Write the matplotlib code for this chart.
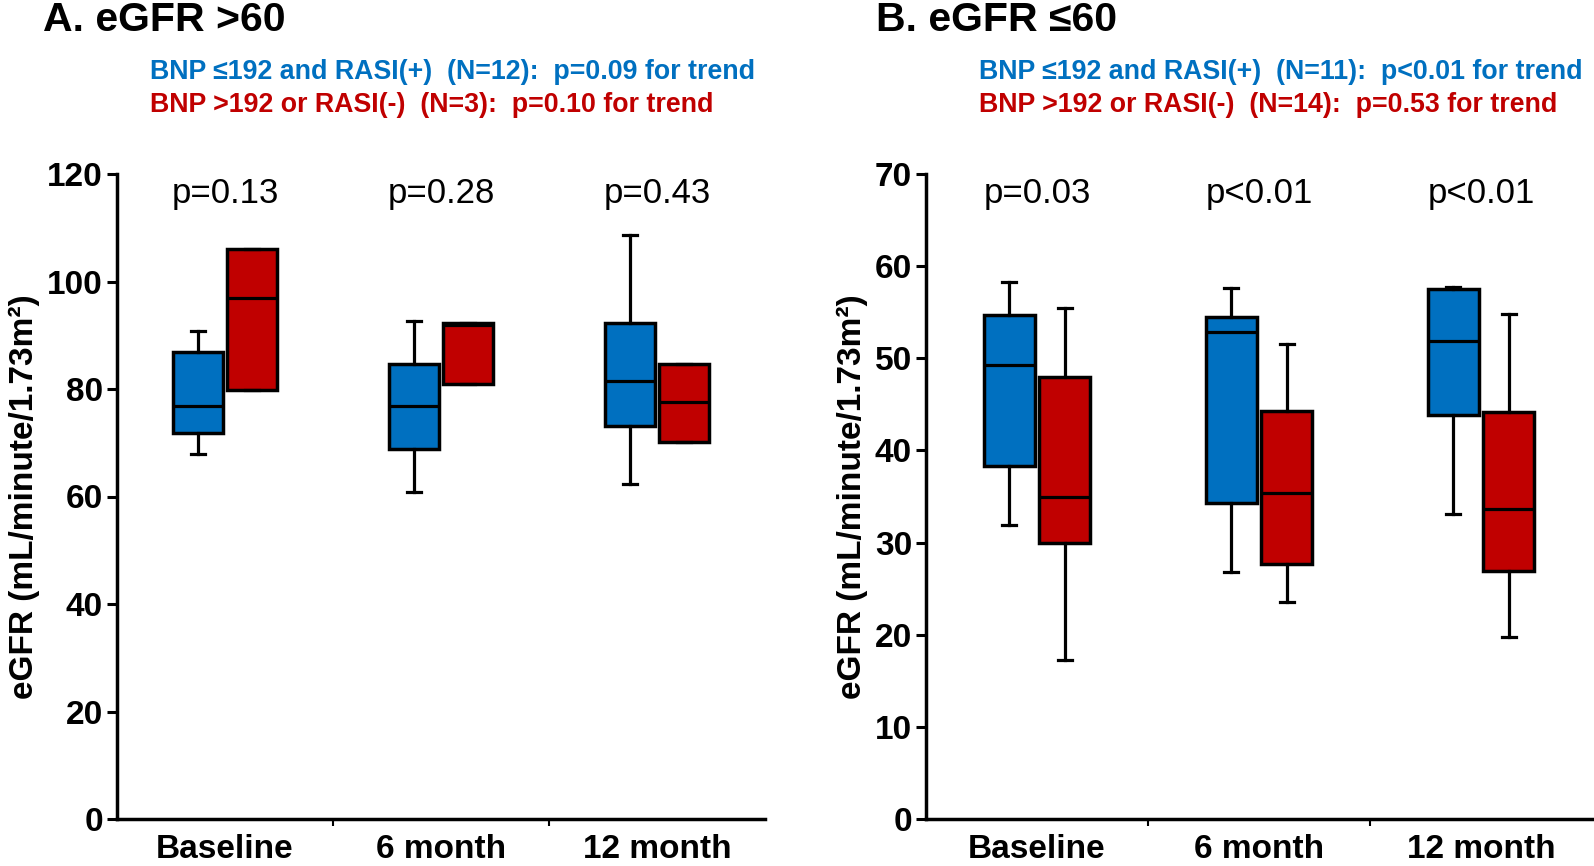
import matplotlib
matplotlib.use("Agg")
import matplotlib.pyplot as plt

plt.rcParams["font.family"] = ["Liberation Sans", "DejaVu Sans"]

BLUE = "#0070C0"
RED = "#C00000"

categories = ["Baseline", "6 month", "12 month"]

# panel A: eGFR >60
a_blue_whislo = [67.9, 60.9, 62.3]
a_blue_q1 = [71.9, 68.8, 73.2]
a_blue_med = [76.9, 76.9, 81.4]
a_blue_q3 = [86.8, 84.7, 92.3]
a_blue_whishi = [90.8, 92.6, 108.6]

a_red_whislo = [79.8, 80.9, 70.1]
a_red_q1 = [79.8, 80.9, 70.1]
a_red_med = [97.0, 92.0, 77.5]
a_red_q3 = [106.0, 92.3, 84.7]
a_red_whishi = [106.0, 92.3, 84.7]

a_pvalues = ["p=0.13", "p=0.28", "p=0.43"]

# panel B: eGFR <=60
b_blue_whislo = [31.9, 26.8, 33.1]
b_blue_q1 = [38.3, 34.3, 43.8]
b_blue_med = [49.3, 52.8, 51.9]
b_blue_q3 = [54.7, 54.5, 57.5]
b_blue_whishi = [58.3, 57.6, 57.7]

b_red_whislo = [17.3, 23.6, 19.7]
b_red_q1 = [30.0, 27.7, 26.9]
b_red_med = [34.9, 35.4, 33.6]
b_red_q3 = [48.0, 44.3, 44.2]
b_red_whishi = [55.5, 51.6, 54.8]

b_pvalues = ["p=0.03", "p<0.01", "p<0.01"]

W, H = 1594, 866


def _stats(lo, q1, med, q3, hi):
    return [dict(whislo=a, q1=b, med=c, q3=d, whishi=e, fliers=[])
            for a, b, c, d, e in zip(lo, q1, med, q3, hi)]


def _panel(rect, blue, red, pvals, ymax, ystep, ptext_y):
    ax = fig.add_axes(rect)
    pos = list(range(len(categories)))
    for stats, off, color in [(blue, -0.125, BLUE), (red, 0.125, RED)]:
        ax.bxp(stats, positions=[p + off for p in pos], widths=0.23,
               patch_artist=True, showfliers=False, capwidths=0.065,
               boxprops=dict(facecolor=color, edgecolor="black", linewidth=2.5),
               medianprops=dict(color="black", linewidth=2.3),
               whiskerprops=dict(color="black", linewidth=2.3),
               capprops=dict(color="black", linewidth=2.3))
    for p, t in zip(pos, pvals):
        ax.text(p, ptext_y, t, ha="center", va="center", fontsize=25)
    ax.set_xlim(-0.5, len(categories) - 0.5)
    ax.set_ylim(0, ymax)
    ax.set_yticks(range(0, ymax + 1, ystep))
    ax.set_xticks(pos)
    ax.set_xticklabels(categories, fontsize=24, fontweight="bold")
    ax.set_xticks([0.5, 1.5], minor=True)
    ax.tick_params(axis="x", which="major", length=0, pad=11)
    ax.tick_params(axis="x", which="minor", length=5, width=1.5)
    ax.tick_params(axis="y", length=7, width=2.2, pad=3, labelsize=24)
    for lab in ax.get_yticklabels():
        lab.set_fontweight("bold")
    for s in ["top", "right"]:
        ax.spines[s].set_visible(False)
    for s in ["left", "bottom"]:
        ax.spines[s].set_linewidth(2.5)
    ax.set_ylabel("eGFR (mL/minute/1.73m²)", fontsize=24, fontweight="bold", labelpad=5)
    ax.patch.set_visible(False)
    return ax


fig = plt.figure(figsize=(W / 100, H / 100), dpi=100)

bottom = (H - 819) / H
height = (819 - 174) / H
_panel([117 / W, bottom, (765 - 117) / W, height],
       _stats(a_blue_whislo, a_blue_q1, a_blue_med, a_blue_q3, a_blue_whishi),
       _stats(a_red_whislo, a_red_q1, a_red_med, a_red_q3, a_red_whishi),
       a_pvalues, 120, 20, 116.4)
_panel([926 / W, bottom, (1592 - 926) / W, height],
       _stats(b_blue_whislo, b_blue_q1, b_blue_med, b_blue_q3, b_blue_whishi),
       _stats(b_red_whislo, b_red_q1, b_red_med, b_red_q3, b_red_whishi),
       b_pvalues, 70, 10, 67.9)

fig.text(43 / W, 1 - 20 / H, "A. eGFR >60", fontsize=29.5, fontweight="bold", va="center")
fig.text(876 / W, 1 - 20 / H, "B. eGFR ≤60", fontsize=29.5, fontweight="bold", va="center")

sub = dict(fontsize=19.3, fontweight="bold", va="center")
fig.text(150 / W, 1 - 72 / H, "BNP ≤192 and RASI(+)  (N=12):  p=0.09 for trend", color=BLUE, **sub)
fig.text(150 / W, 1 - 105 / H, "BNP >192 or RASI(-)  (N=3):  p=0.10 for trend", color=RED, **sub)
fig.text(979 / W, 1 - 72 / H, "BNP ≤192 and RASI(+)  (N=11):  p<0.01 for trend", color=BLUE, **sub)
fig.text(979 / W, 1 - 105 / H, "BNP >192 or RASI(-)  (N=14):  p=0.53 for trend", color=RED, **sub)

fig.savefig("out.png", dpi=100)
